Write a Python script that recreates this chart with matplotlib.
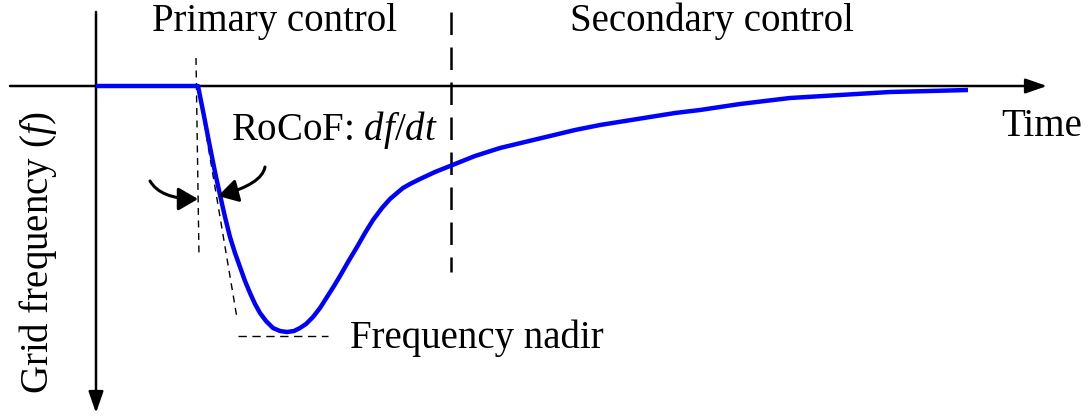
import matplotlib
matplotlib.use("Agg")
import matplotlib.pyplot as plt
from matplotlib.patches import FancyArrowPatch

plt.rcParams['font.family'] = ['Liberation Serif', 'DejaVu Serif']
plt.rcParams['mathtext.fontset'] = 'custom'
plt.rcParams['mathtext.rm'] = 'Liberation Serif'
plt.rcParams['mathtext.it'] = 'Liberation Serif:italic'

# frequency response curve (sketch units: x = time, y = frequency drop, down is lower)
curve_t = [96, 198, 204, 210, 215, 220, 225, 230, 235, 240, 245, 250, 255, 260, 266,
           273, 280, 287, 294, 300, 306, 313, 320, 327, 334, 340, 348, 357, 365,
           373, 382, 390, 397, 403, 410, 420, 435, 450, 475, 500, 525, 550, 575,
           600, 625, 650, 675, 700, 740, 790, 840, 890, 930, 968]
curve_f = [86, 86, 116, 147, 172, 195, 217, 237, 253, 267, 281, 293, 304, 313, 321,
           328, 331, 332, 331, 328, 324, 317, 308, 297, 286, 276, 262, 247, 233,
           220, 208, 199, 193, 188, 184, 179, 172, 166, 156, 148, 142, 136, 130,
           125, 121, 117, 113, 110, 104, 98, 95, 92, 91, 90]

# guide lines
rocof_t = [198, 237]
rocof_f = [86, 318]
vert_t = [196, 199]
vert_f = [58, 256]
nadir_t = [238, 328]
nadir_f = [336, 336]
boundary_t = [451, 451]
boundary_f = [12, 272]

labels = {
    "Primary control": (275, 21),
    "Secondary control": (712, 21),
    "Time": (1042, 126),
    "RoCoF: $df/dt$": (334, 130),
    "Frequency nadir": (477, 338),
}

fig = plt.figure(figsize=(10.88, 4.2), dpi=100)
ax = fig.add_axes([0, 0, 1, 1])
ax.set_xlim(0, 1088)
ax.set_ylim(420, 0)
ax.axis("off")

# axes with arrows
ax.annotate("", xy=(1047, 86), xytext=(10, 86),
            arrowprops=dict(arrowstyle="-|>,head_length=1.3,head_width=0.45",
                            lw=1.8, color="black", shrinkA=0, shrinkB=0))
ax.annotate("", xy=(96, 413), xytext=(96, 12),
            arrowprops=dict(arrowstyle="-|>,head_length=1.3,head_width=0.45",
                            lw=1.8, color="black", shrinkA=0, shrinkB=0))

ax.plot(boundary_t, boundary_f, color="black", lw=1.8, dashes=(9, 5))
ax.plot(vert_t, vert_f, color="black", lw=1.0, dashes=(5, 4))
ax.plot(rocof_t, rocof_f, color="black", lw=1.0, dashes=(5, 4))
ax.plot(nadir_t, nadir_f, color="black", lw=1.0, dashes=(6, 4))

ax.plot(curve_t, curve_f, color="#0000ff", lw=3.2, solid_joinstyle="round",
        solid_capstyle="butt", zorder=5)

# curved arrows marking the RoCoF angle
arrows = [((150, 181), (198, 199), "angle3,angleA=-60,angleB=0"),
          ((265, 167), (218, 196), "angle3,angleA=-100,angleB=15")]
for start, end, conn in arrows:
    ax.add_patch(FancyArrowPatch(start, end, connectionstyle=conn,
                                 arrowstyle="-|>,head_length=12,head_width=7",
                                 lw=2.2, color="black", shrinkA=0, shrinkB=0,
                                 zorder=6))

for txt, (x, y) in labels.items():
    ax.text(x, y, txt, fontsize=28, ha="center", va="center")

ax.text(38, 252, "Grid frequency ($f$)", fontsize=28, rotation=90,
        ha="center", va="center")

fig.savefig("out.png", dpi=100)
